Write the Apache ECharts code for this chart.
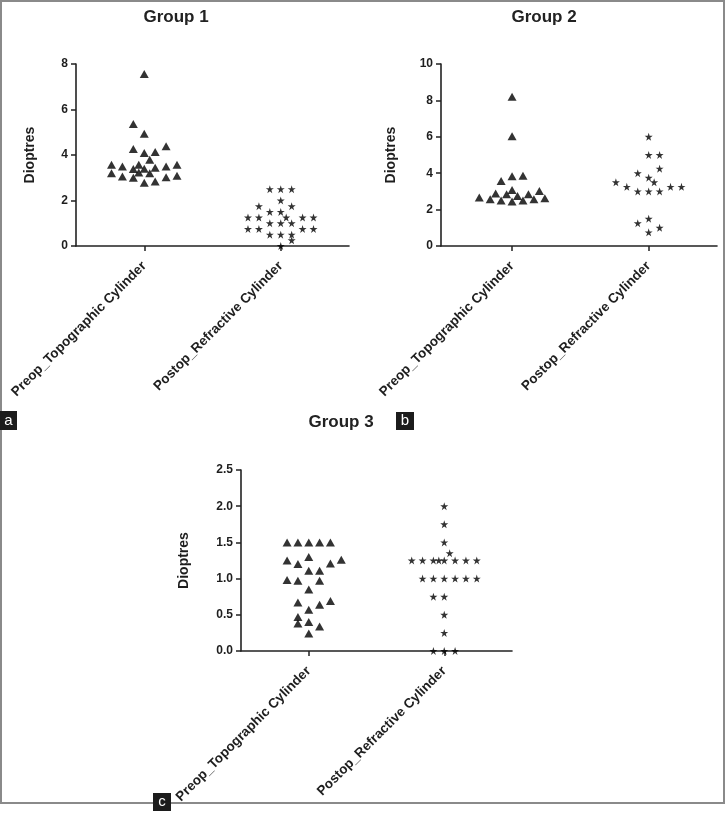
<!DOCTYPE html>
<html><head><meta charset="utf-8">
<script src="https://cdn.jsdelivr.net/npm/echarts@6/dist/echarts.min.js"></script>
<style>html,body{margin:0;padding:0;background:#fff}#c{width:727px;height:813px}</style>
</head><body><div id="c"></div>
<script>
// ---------- data ----------
const categories = ['Preop_Topographic Cylinder', 'Postop_Refractive Cylinder'];
const groupTitles = ['Group 1', 'Group 2', 'Group 3'];
const yAxisName = 'Dioptres';
const panelLetters = ['a', 'b', 'c'];

const g1YTicks = [0, 2, 4, 6, 8];
const g2YTicks = [0, 2, 4, 6, 8, 10];
const g3YTicks = [0.0, 0.5, 1.0, 1.5, 2.0, 2.5];

// Group 1 – values and horizontal spread (in category units)
const g1PreValues = [7.56, 5.36, 4.93, 4.26, 4.09, 4.13, 4.38, 3.79, 3.57, 3.50, 3.38, 3.57, 3.40, 3.44, 3.50, 3.57, 3.20, 3.06, 3.00, 3.23, 3.20, 2.78, 2.84, 3.02, 3.09];
const g1PreSpread = [0, -0.08, 0, -0.08, 0, 0.08, 0.16, 0.04, -0.24, -0.16, -0.08, -0.04, 0, 0.08, 0.16, 0.24, -0.24, -0.16, -0.08, -0.04, 0.04, 0, 0.08, 0.16, 0.24];
const g1PostValues = [2.5, 2.5, 2.5, 2.0, 1.75, 1.75, 1.5, 1.5, 1.25, 1.25, 1.25, 1.25, 1.25, 1.0, 1.0, 1.0, 0.75, 0.75, 0.75, 0.75, 0.5, 0.5, 0.5, 0.25, 0];
const g1PostSpread = [-0.08, 0, 0.08, 0, -0.16, 0.08, -0.08, 0, -0.24, -0.16, 0.04, 0.16, 0.24, -0.08, 0, 0.08, -0.24, -0.16, 0.16, 0.24, -0.08, 0, 0.08, 0.08, 0];

// Group 2
const g2PreValues = [8.2, 6.03, 3.57, 3.83, 3.86, 2.66, 2.57, 2.89, 2.50, 2.84, 3.08, 2.45, 2.75, 2.50, 2.85, 2.57, 3.02, 2.63];
const g2PreSpread = [0, 0, -0.08, 0, 0.08, -0.24, -0.16, -0.12, -0.08, -0.04, 0, 0, 0.04, 0.08, 0.12, 0.16, 0.20, 0.24];
const g2PostValues = [6.0, 5.0, 5.0, 4.25, 4.0, 3.75, 3.5, 3.5, 3.25, 3.0, 3.0, 3.0, 3.25, 3.25, 1.5, 1.25, 1.0, 0.75];
const g2PostSpread = [0, 0, 0.08, 0.08, -0.08, 0, 0.04, -0.24, -0.16, -0.08, 0, 0.08, 0.16, 0.24, 0, -0.08, 0.08, 0];

// Group 3
const g3PreValues = [1.5, 1.5, 1.5, 1.5, 1.5, 1.25, 1.20, 1.30, 1.11, 1.11, 1.21, 1.26, 0.98, 0.97, 0.97, 0.85, 0.67, 0.57, 0.64, 0.69, 0.47, 0.38, 0.40, 0.34, 0.24];
const g3PreSpread = [-0.16, -0.08, 0, 0.08, 0.16, -0.16, -0.08, 0, 0, 0.08, 0.16, 0.24, -0.16, -0.08, 0.08, 0, -0.08, 0, 0.08, 0.16, -0.08, -0.08, 0, 0.08, 0];
const g3PostValues = [2.0, 1.75, 1.5, 1.35, 1.25, 1.25, 1.25, 1.25, 1.25, 1.25, 1.25, 1.25, 1.0, 1.0, 1.0, 1.0, 1.0, 1.0, 0.75, 0.75, 0.5, 0.25, 0, 0, 0];
const g3PostSpread = [0, 0, 0, 0.04, -0.24, -0.16, -0.08, -0.04, 0, 0.08, 0.16, 0.24, -0.16, -0.08, 0, 0.08, 0.16, 0.24, -0.08, 0, 0, 0, -0.08, 0, 0.08];

// ---------- chart ----------
const FONT = '"Liberation Sans", Arial, Helvetica, sans-serif';
const INK = '#000';
const STAR = 'path://M50,0 L61.2,34.5 L97.6,34.5 L68.2,55.9 L79.4,90.5 L50,69.1 L20.6,90.5 L31.8,55.9 L2.4,34.5 L38.8,34.5 Z';

const panels = [
  { grid: { left: 76, top: 64, width: 273, height: 182 }, ticks: g1YTicks, dec: 0, xMin: -0.5, nameGap: 39,
    pre: [g1PreValues, g1PreSpread], post: [g1PostValues, g1PostSpread] },
  { grid: { left: 441, top: 64, width: 276, height: 182 }, ticks: g2YTicks, dec: 0, xMin: -0.52, nameGap: 43,
    pre: [g2PreValues, g2PreSpread], post: [g2PostValues, g2PostSpread] },
  { grid: { left: 241, top: 470, width: 271, height: 181 }, ticks: g3YTicks, dec: 1, xMin: -0.5, nameGap: 50,
    pre: [g3PreValues, g3PreSpread], post: [g3PostValues, g3PostSpread] }
];

const grid = [], xAxis = [], yAxis = [], series = [];
panels.forEach((p, i) => {
  grid.push(Object.assign({ containLabel: false, outerBoundsMode: 'none' }, p.grid));
  xAxis.push({
    type: 'value', gridIndex: i, min: p.xMin, max: 1.5,
    splitLine: { show: false },
    axisLine: { onZero: false, lineStyle: { color: '#222', width: 1.6 } },
    axisTick: { customValues: [0, 1], length: 5, lineStyle: { color: '#222', width: 1.5 } },
    axisLabel: {
      customValues: [0, 1], rotate: 45, margin: 18,
      formatter: v => categories[Math.round(v)] || '',
      fontFamily: FONT, fontWeight: 'bold', fontSize: 13.5, color: '#1e1e1e'
    }
  });
  const t = p.ticks;
  yAxis.push({
    type: 'value', gridIndex: i, min: t[0], max: t[t.length - 1], interval: t[1] - t[0],
    name: yAxisName, nameLocation: 'middle', nameGap: p.nameGap,
    nameTextStyle: { fontFamily: FONT, fontWeight: 'bold', fontSize: 14, color: '#1e1e1e' },
    splitLine: { show: false },
    axisLine: { show: true, onZero: false, lineStyle: { color: '#222', width: 1.6 } },
    axisTick: { show: true, length: 5, lineStyle: { color: '#222', width: 1.5 } },
    axisLabel: { margin: 8, fontFamily: FONT, fontWeight: 'bold', fontSize: 12, color: '#1e1e1e',
      formatter: v => v.toFixed(p.dec) }
  });
  series.push({
    type: 'scatter', xAxisIndex: i, yAxisIndex: i, symbol: 'triangle', symbolSize: [9, 8],
    itemStyle: { color: INK }, silent: true,
    data: p.pre[0].map((v, k) => [0 + p.pre[1][k], v])
  });
  series.push({
    type: 'scatter', xAxisIndex: i, yAxisIndex: i, symbol: STAR, symbolSize: 8,
    itemStyle: { color: INK }, silent: true,
    data: p.post[0].map((v, k) => [1 + p.post[1][k], v])
  });
});

function titleText(txt, x, y) {
  return { type: 'text', x: x, y: y, silent: true,
    style: { text: txt, font: 'bold 17px ' + FONT, fill: '#222', align: 'center', verticalAlign: 'middle', textAlign: 'center', textVerticalAlign: 'middle' } };
}
function letterBox(txt, x, y, w, h) {
  return { type: 'group', x: x, y: y, silent: true, children: [
    { type: 'rect', shape: { x: 0, y: 0, width: w, height: h }, style: { fill: '#1c1c1c' } },
    { type: 'text', x: w / 2, y: h / 2, style: { text: txt, font: '15px ' + FONT, fill: '#fff', align: 'center', verticalAlign: 'middle', textAlign: 'center', textVerticalAlign: 'middle' } }
  ] };
}

const graphic = [
  { type: 'rect', silent: true, shape: { x: 1, y: 1, width: 723, height: 802 }, style: { fill: 'none', stroke: '#8a8a8a', lineWidth: 2 } },
  titleText(groupTitles[0], 176, 17),
  titleText(groupTitles[1], 544, 17),
  titleText(groupTitles[2], 341, 422),
  letterBox(panelLetters[0], 0, 411, 17, 19),
  letterBox(panelLetters[1], 396, 412, 18, 18),
  letterBox(panelLetters[2], 153, 793, 18, 18)
];

const chart = echarts.init(document.getElementById('c'), null, { renderer: 'canvas' });
chart.setOption({
  animation: false,
  backgroundColor: '#fff',
  grid, xAxis, yAxis, series, graphic
});
</script>
</body></html>
